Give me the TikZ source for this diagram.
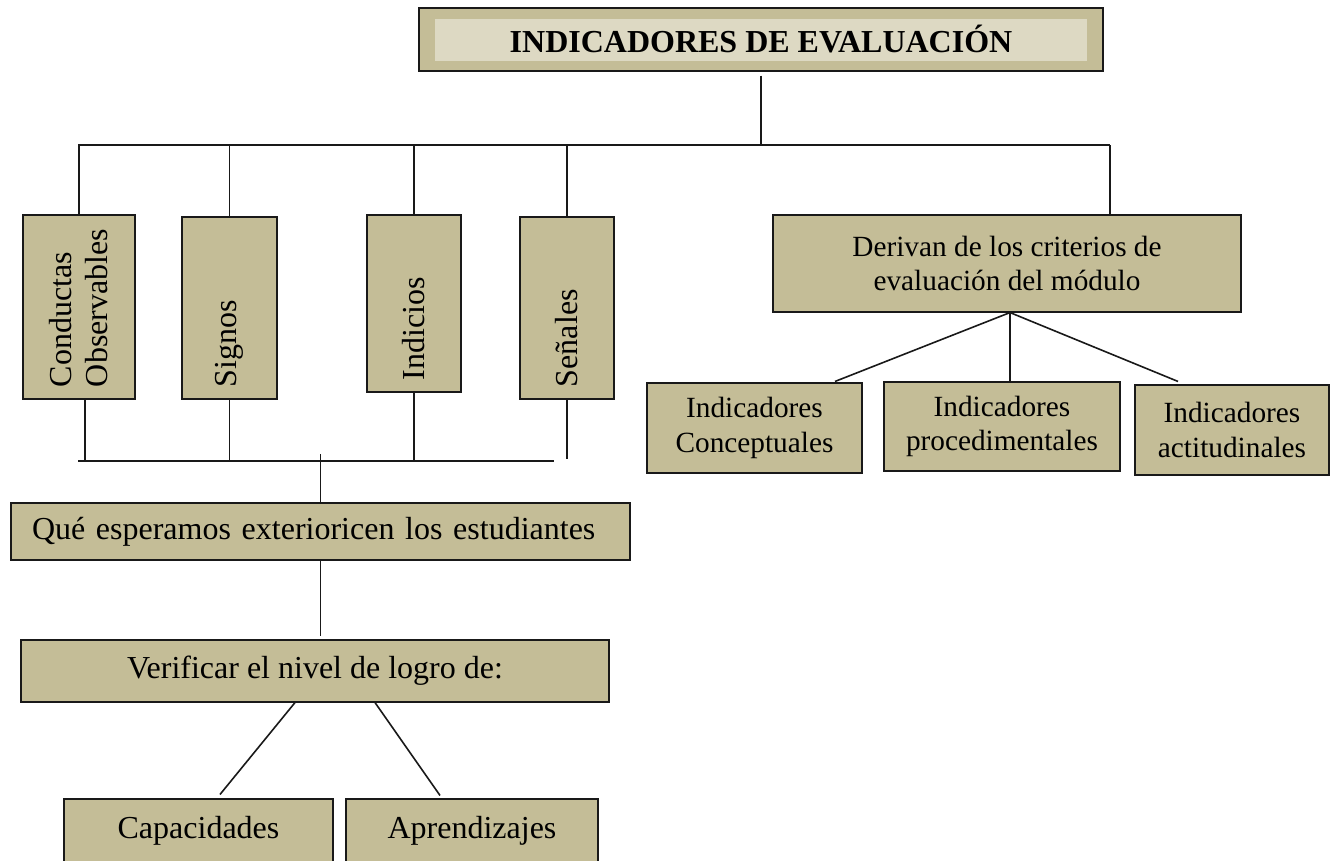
\documentclass[tikz,border=0pt]{standalone}
\usepackage{fontspec}
\setmainfont{Liberation Serif}
\definecolor{tanoscuro}{HTML}{C4BD97}
\definecolor{tanclaro}{HTML}{DDD9C3}

\begin{document}
\begin{tikzpicture}[x=1pt,y=-1pt,
  caja/.style={draw=black!90,fill=tanoscuro,line width=1.1pt,inner sep=0pt,font=\fontsize{32}{36}\selectfont},
  cajav/.style={caja,rotate=90,align=left},
  cajad/.style={caja,align=center,font=\fontsize{29.3}{34.5}\selectfont},
  linea/.style={line width=1.6pt,black!90}]
\useasboundingbox (0,0) rectangle (1335,860);

% titulo
\node[caja,minimum width=684,minimum height=63,font=\fontsize{32}{36}\selectfont\bfseries,
  path picture={\fill[tanclaro] ([shift={(16pt,-11pt)}]path picture bounding box.north west)
    rectangle ([shift={(-16pt,10pt)}]path picture bounding box.south east);}]
  (titulo) at (761,39.5) {INDICADORES DE EVALUACIÓN};

% cajas verticales
\node[cajav,minimum width=184,minimum height=112,text width=160] (conductas) at (79,307) {Conductas\\Observables};
\node[cajav,minimum width=182,minimum height=95,text width=158] (signos) at (229.5,308) {Signos};
\node[cajav,minimum width=177,minimum height=94,text width=153] (indicios) at (414,303.5) {Indicios};
\node[cajav,minimum width=182,minimum height=94,text width=158] (senales) at (567,308) {Señales};

% rama derecha
\node[cajad,minimum width=468,minimum height=97] (derivan) at (1007,263.5) {Derivan de los criterios de\\evaluación del módulo};
\node[cajad,minimum width=215,minimum height=90] (conceptuales) at (754.5,428) {Indicadores\\Conceptuales};
\node[cajad,minimum width=236,minimum height=89] (procedimentales) at (1002,426.5) {Indicadores\\procedimentales};
\node[cajad,minimum width=194,minimum height=90] (actitudinales) at (1232,430) {Indicadores\\actitudinales};

% rama inferior
\node[caja,minimum width=619,minimum height=57,text width=577,align=left] (que) at (320.5,531.5) {Qué esperamos exterioricen los estudiantes};
\node[caja,minimum width=588,minimum height=62] (verificar) at (315,671) {Verificar el nivel de logro de:};
\node[caja,minimum width=269,minimum height=64] (capacidades) at (198.5,831) {Capacidades};
\node[caja,minimum width=252,minimum height=64] (aprendizajes) at (472,831) {Aprendizajes};

% barra superior
\coordinate (busA) at (78,145);
\coordinate (busB) at (1110,145);
\draw[linea] (busA) -- (busB);
\draw[linea] ([yshift=-4pt]titulo.south) -- (titulo.south |- busA);
\foreach \n in {conductas,signos,indicios,senales}
  \draw[linea] (\n.east) -- (\n.east |- busA);
\draw[linea] (busB) -- (busB |- derivan.north);

% barra inferior
\coordinate (busC) at (78,461);
\coordinate (busD) at (554,461);
\draw[linea] (busC) -- (busD);
\draw[linea] ([xshift=6pt]conductas.west) -- ([xshift=6pt]conductas.west |- busC);
\draw[linea] (signos.west) -- (signos.west |- busC);
\draw[linea] (indicios.west) -- (indicios.west |- busC);
\draw[linea] (senales.west) -- ([yshift=2pt]senales.west |- busC);
\draw[linea] (que.north) -- ++(0,-48);

\draw[linea] (que.south) -- ++(0,75);
\draw[linea] ([xshift=-20pt]verificar.south) -- ([shift={(21.5pt,4pt)}]capacidades.north);
\draw[linea] ([xshift=60pt]verificar.south) -- ([shift={(-32pt,3pt)}]aprendizajes.north);

\draw[linea] ([xshift=3pt]derivan.south) -- ([shift={(80.5pt,1pt)}]conceptuales.north);
\draw[linea] ([xshift=3pt]derivan.south) -- ([xshift=8pt]procedimentales.north);
\draw[linea] ([xshift=3pt]derivan.south) -- ([shift={(-54pt,3pt)}]actitudinales.north);
\end{tikzpicture}
\end{document}
